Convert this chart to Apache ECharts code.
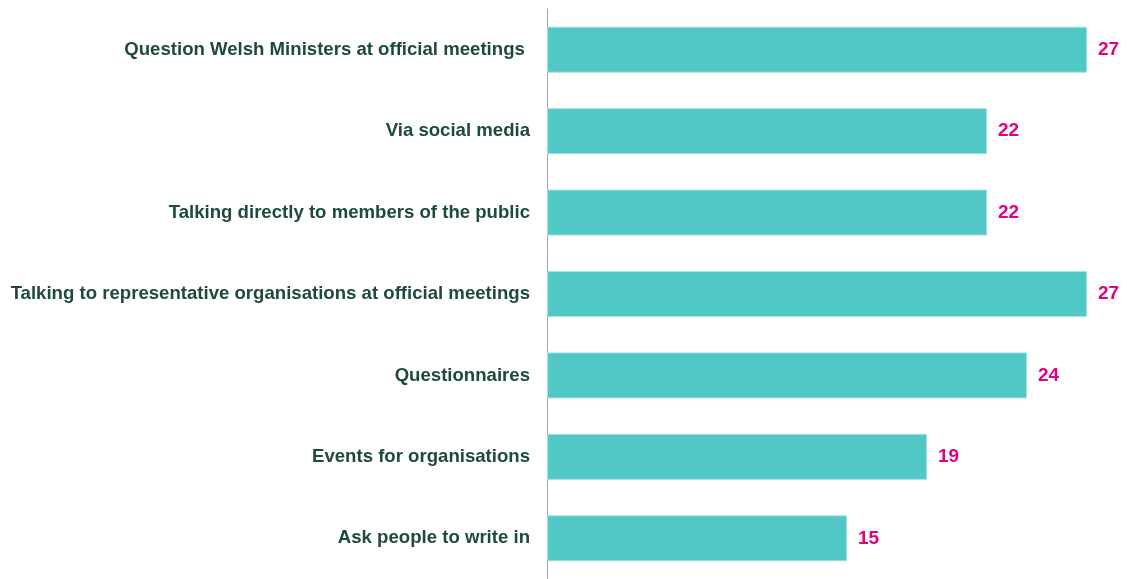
<!DOCTYPE html>
<html><head><meta charset="utf-8">
<script src="https://cdn.jsdelivr.net/npm/echarts@6/dist/echarts.min.js"></script>
<style>html,body{margin:0;padding:0;background:#fff}#c{width:1127px;height:579px}</style>
</head><body><div id="c"></div>
<script>
const categories = [
  "Question Welsh Ministers at official meetings ",
  "Via social media",
  "Talking directly to members of the public",
  "Talking to representative organisations at official meetings",
  "Questionnaires",
  "Events for organisations",
  "Ask people to write in"
];
const values = [27, 22, 22, 27, 24, 19, 15];

const chart = echarts.init(document.getElementById('c'));
chart.setOption({
  animation: false,
  grid: { left: 547, top: 9, width: 540, height: 573, containLabel: false },
  xAxis: { type: 'value', min: 0, max: 27, show: false },
  yAxis: {
    type: 'category', data: categories, inverse: true,
    axisLine: { show: true, lineStyle: { color: '#a6a6a6', width: 1 } },
    axisTick: { show: false },
    axisLabel: { color: '#1e4a3b', fontFamily: 'Liberation Sans, Arial, sans-serif', fontWeight: 'bold', fontSize: 18.6, margin: 17 }
  },
  series: [{
    type: 'bar', data: values, barWidth: 46,
    itemStyle: { color: '#52c8c6', borderColor: '#9fe2e0', borderWidth: 1 },
    label: { show: true, position: 'right', distance: 11, color: '#e5007e',
      fontFamily: 'Liberation Sans, Arial, sans-serif', fontWeight: 'bold', fontSize: 19 }
  }]
});
</script></body></html>
